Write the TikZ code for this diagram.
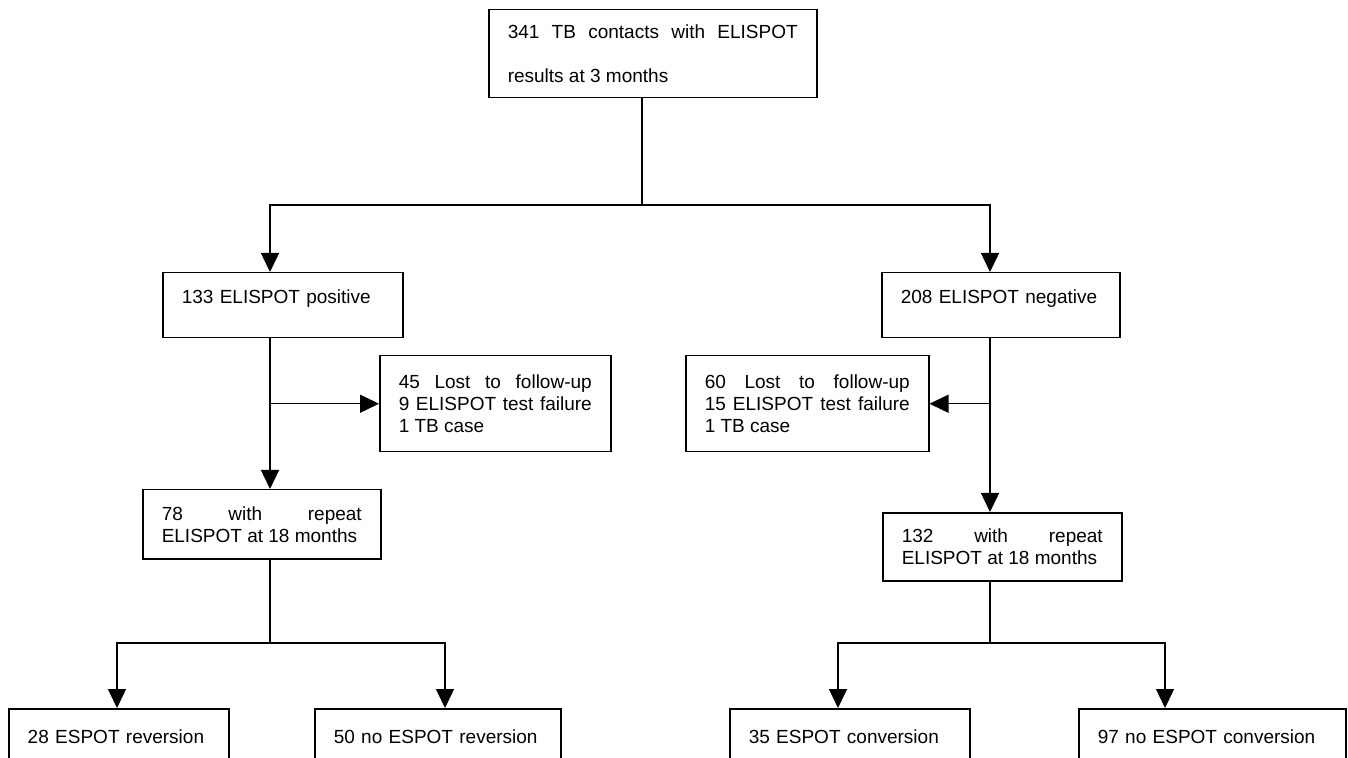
\documentclass[tikz,border=0pt]{standalone}
\usepackage{fontspec}
\setmainfont{Liberation Sans}
\usepackage{tikz}
\usetikzlibrary{calc,arrows.meta}

\begin{document}
\begin{tikzpicture}[
	x=0.5pt, y=-0.5pt,
	box/.style={
		draw, rectangle, anchor=north west,
		inner xsep=9.5pt, inner ysep=0pt,
		align=justify, text=black,
		font=\fontsize{9.5}{11}\selectfont
	},
	one/.style={align=left, text height=7pt, text depth=8.5pt},
	low/.style={align=left, text height=7pt, text depth=4pt, minimum height=32pt},
	line width=0.75pt, >={Triangle[length=9.5pt,width=9pt]}
	]
	\useasboundingbox (0,0) rectangle (1348,758);
	\node[box, text width=145pt, minimum height=44pt, font=\fontsize{9.5}{22}\selectfont] (0) at (488,9) {341 TB contacts with ELISPOT\linebreak results at 3 months};
	\node[box, one, text width=101pt, minimum height=32.5pt] (1) at (162,272) {133 ELISPOT positive};
	\node[box, one, text width=100pt, minimum height=32.5pt] (2) at (881,272) {208 ELISPOT negative};
	\node[box, text width=96.5pt, minimum height=48pt] (3) at (379,355) {45 Lost to follow-up\linebreak 9 ELISPOT test failure\linebreak 1 TB case};
	\node[box, text width=102.5pt, minimum height=48pt] (4) at (685,355) {60 Lost to follow-up\linebreak 15 ELISPOT test failure\linebreak 1 TB case};
	\node[box, text width=100pt, minimum height=34.5pt] (5) at (142,489) {78 with repeat\linebreak ELISPOT at 18 months};
	\node[box, text width=100.5pt, minimum height=34pt] (6) at (882,512) {132 with repeat\linebreak ELISPOT at 18 months};
	\node[box, low, text width=91pt] (7) at (8,708) {28 ESPOT reversion};
	\node[box, low, text width=104pt] (8) at (314,708) {50 no ESPOT reversion};
	\node[box, low, text width=101pt] (9) at (729,708) {35 ESPOT conversion};
	\node[box, low, text width=114.5pt] (10) at (1078,708) {97 no ESPOT conversion};
	% split points
	\coordinate (s0) at (642,205);
	\coordinate (s5) at (270,643);
	\coordinate (s6) at (990,643);
	\coordinate (d7) at (117,643);
	\coordinate (d8) at (445,643);
	\coordinate (d9) at (838,643);
	\coordinate (d10) at (1165,643);
	\draw (0.south -| s0) -- (s0);
	\draw[->] (s0) -| (1.north -| s5);
	\draw[->] (s0) -| (2.north -| s6);
	\draw[->] (1.south -| s5) -- (5.north -| s5);
	\draw[->] (3.west -| s5) -- (3.west);
	\draw[->] (2.south -| s6) -- (6.north -| s6);
	\draw[->] (4.east -| s6) -- (4.east);
	\draw (5.south -| s5) -- (s5);
	\draw (6.south -| s6) -- (s6);
	\foreach \n/\s in {7/s5,8/s5,9/s6,10/s6}
	{
		\draw[->] (\s) -| (\n.north -| d\n);
	}
\end{tikzpicture}
\end{document}
